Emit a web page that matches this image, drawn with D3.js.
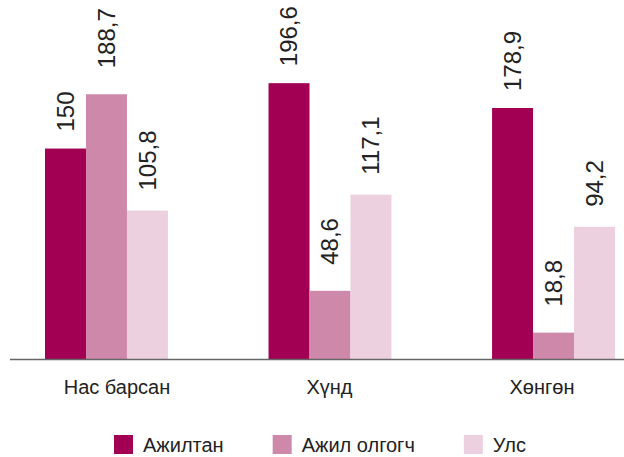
<!DOCTYPE html>
<html>
<head>
<meta charset="utf-8">
<script src="https://cdn.jsdelivr.net/npm/d3@7"></script>
<style>
  html, body { margin: 0; padding: 0; background: #fff; }
  svg { display: block; }
</style>
</head>
<body>
<svg id="chart" width="624" height="457"></svg>
<script>
// ---- data ----
const categories = ["Нас барсан", "Хүнд", "Хөнгөн"];
const seriesNames = ["Ажилтан", "Ажил олгогч", "Улс"];
const ajiltan = [150, 196.6, 178.9];
const ajilOlgogch = [188.7, 48.6, 18.8];
const uls = [105.8, 117.1, 94.2];
const valueLabels = [
  ["150", "196,6", "178,9"],
  ["188,7", "48,6", "18,8"],
  ["105,8", "117,1", "94,2"]
];

// ---- style / layout ----
const colors = ["#A20053", "#CE88A9", "#EDD0DF"];
const labelGap = [17, 26, 20];
const W = 624, H = 457;
const baseY = 359;

const seriesValues = [ajiltan, ajilOlgogch, uls];
const svg = d3.select("#chart");

const x0 = d3.scaleBand().domain(categories).range([45, 615]).paddingInner(0.45).paddingOuter(0);
const x1 = d3.scaleBand().domain(seriesNames).range([0, x0.bandwidth()]).padding(0);
const y = d3.scaleLinear().domain([0, 200]).range([baseY, 78.4]);
const xLabel = d3.scalePoint().domain(categories).range([117, 542]);

const rows = [];
categories.forEach((c, i) => {
  seriesNames.forEach((s, j) => {
    rows.push({cat: c, ser: s, j: j, v: seriesValues[j][i], label: valueLabels[j][i]});
  });
});

svg.append("g").selectAll("rect").data(rows).join("rect")
  .attr("x", d => x0(d.cat) + x1(d.ser))
  .attr("y", d => y(d.v))
  .attr("width", x1.bandwidth())
  .attr("height", d => y(0) - y(d.v))
  .attr("fill", d => colors[d.j]);

svg.append("g").selectAll("text").data(rows).join("text")
  .attr("transform", d => {
    const cx = x0(d.cat) + x1(d.ser) + x1.bandwidth() / 2;
    const cy = y(d.v) - labelGap[d.j];
    return `translate(${cx},${cy}) rotate(-90)`;
  })
  .attr("dy", "0.35em")
  .attr("text-anchor", "start")
  .attr("font-family", "'Liberation Sans Narrow', 'Liberation Sans', sans-serif")
  .attr("font-size", 24)
  .attr("fill", "#222")
  .text(d => d.label);

// axis line
svg.append("line")
  .attr("x1", 10).attr("x2", W)
  .attr("y1", baseY + 0.5).attr("y2", baseY + 0.5)
  .attr("stroke", "#666").attr("stroke-width", 1.5);

// category labels
svg.append("g").selectAll("text").data(categories).join("text")
  .attr("x", d => xLabel(d))
  .attr("y", 394)
  .attr("text-anchor", "middle")
  .attr("font-family", "'Liberation Sans', sans-serif")
  .attr("font-size", 20)
  .attr("fill", "#222")
  .text(d => d);

// legend
const lg = svg.append("g");
let lx = 114;
seriesNames.forEach((s, j) => {
  lg.append("rect").attr("x", lx).attr("y", 435).attr("width", 19).attr("height", 19).attr("fill", colors[j]);
  const t = lg.append("text").attr("x", lx + 29).attr("y", 452)
    .attr("font-family", "'Liberation Sans', sans-serif")
    .attr("font-size", 20).attr("fill", "#222").text(s);
  lx += 29 + t.node().getComputedTextLength() + 49;
});
</script>
</body>
</html>
